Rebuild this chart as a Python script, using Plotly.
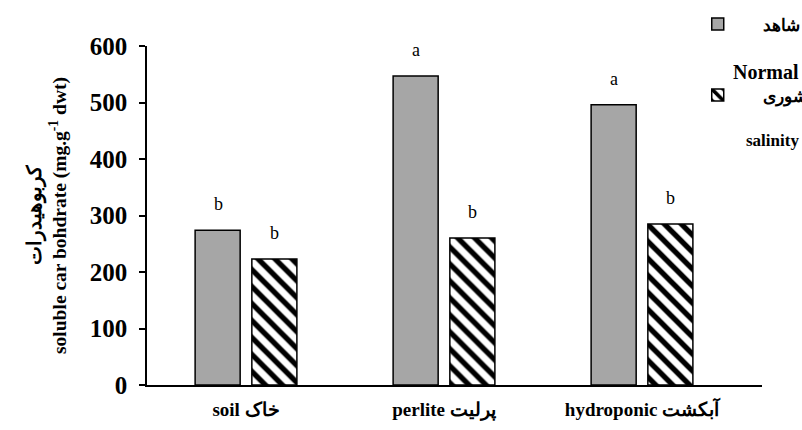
import plotly.graph_objects as go

categories = ["soil خاک", "perlite پرلیت", "hydroponic آبکشت"]
normal_values = [274, 547, 496]
salinity_values = [223, 260, 285]
normal_letters = ["b", "a", "a"]
salinity_letters = ["b", "b", "b"]
y_ticks = [0, 100, 200, 300, 400, 500, 600]

SERIF = "Liberation Serif"
NB = "\u00a0"

fig = go.Figure()
fig.add_trace(go.Bar(
    x=categories, y=normal_values, name=NB * 6 + "شاهد",
    marker=dict(color="#a6a6a6", line=dict(color="black", width=1.5)),
    legend="legend",
))
fig.add_trace(go.Bar(
    x=categories, y=salinity_values, name=NB * 6 + "شوری",
    marker=dict(color="white", line=dict(color="black", width=1.5),
                pattern=dict(shape="\\", fgcolor="black", bgcolor="white",
                             size=12, solidity=0.45, fillmode="replace")),
    legend="legend2",
))

plot_left, plot_right = 147, 762
plot_top, plot_bottom = 46, 385
def py(pix):
    return (plot_bottom - pix) / (plot_bottom - plot_top)
def px(pix):
    return (pix - plot_left) / (plot_right - plot_left)

annotations = []
for i, c in enumerate(categories):
    annotations.append(dict(x=c, y=normal_values[i], text=normal_letters[i],
                            xref="x", yref="y", xshift=-28, yshift=14,
                            yanchor="bottom", showarrow=False,
                            font=dict(family=SERIF, size=18, color="black")))
    annotations.append(dict(x=c, y=salinity_values[i], text=salinity_letters[i],
                            xref="x", yref="y", xshift=28, yshift=14,
                            yanchor="bottom", showarrow=False,
                            font=dict(family=SERIF, size=18, color="black")))
annotations.append(dict(x=px(731), y=py(72), xref="paper", yref="paper", text="Normal",
                        showarrow=False, xanchor="left", yanchor="middle",
                        font=dict(family=SERIF, size=20, color="black", weight="bold")))
annotations.append(dict(x=px(801), y=py(140), xref="paper", yref="paper", text="salinity",
                        showarrow=False, xanchor="right", yanchor="middle",
                        font=dict(family=SERIF, size=17, color="black", weight="bold")))

bold17 = dict(family=SERIF, size=17, color="black", weight="bold")

fig.update_layout(
    width=802, height=430,
    margin=dict(l=plot_left, r=802 - plot_right, t=plot_top, b=430 - plot_bottom,
                autoexpand=False),
    paper_bgcolor="white", plot_bgcolor="white",
    font=dict(family=SERIF, color="black"),
    barmode="group", bargap=0.427, bargroupgap=0.206,
    showlegend=True,
    legend=dict(xref="container", yref="container", x=0.870, y=0.985,
                xanchor="left", yanchor="top", bgcolor="rgba(0,0,0,0)",
                font=bold17),
    legend2=dict(xref="container", yref="container", x=0.870, y=0.82,
                 xanchor="left", yanchor="top", bgcolor="rgba(0,0,0,0)",
                 font=bold17),
    annotations=annotations,
    xaxis=dict(type="category", range=[-0.5, 2.606], showline=True, linecolor="black",
               linewidth=1.5, ticks="", showgrid=False, ticklabelstandoff=6,
               tickfont=dict(family=SERIF, size=19, color="black", weight="bold")),
    yaxis=dict(range=[0, 600], tickvals=y_ticks, showline=True, linecolor="black",
               linewidth=1.5, ticks="outside", ticklen=6, tickwidth=1.5,
               tickcolor="black", showgrid=False, zeroline=False, ticklabelstandoff=7,
               tickfont=dict(family=SERIF, size=25, color="black", weight="bold"),
               title=dict(text="کربوهیدرات<br>soluble car bohdrate (mg.g<sup>-1</sup> dwt)",
                          font=dict(family=SERIF, size=19.5, color="black", weight="bold"),
                          standoff=18)),
)

fig.write_html("out.html", post_script="document.body.style.margin='0';",
               config={"displayModeBar": False})
